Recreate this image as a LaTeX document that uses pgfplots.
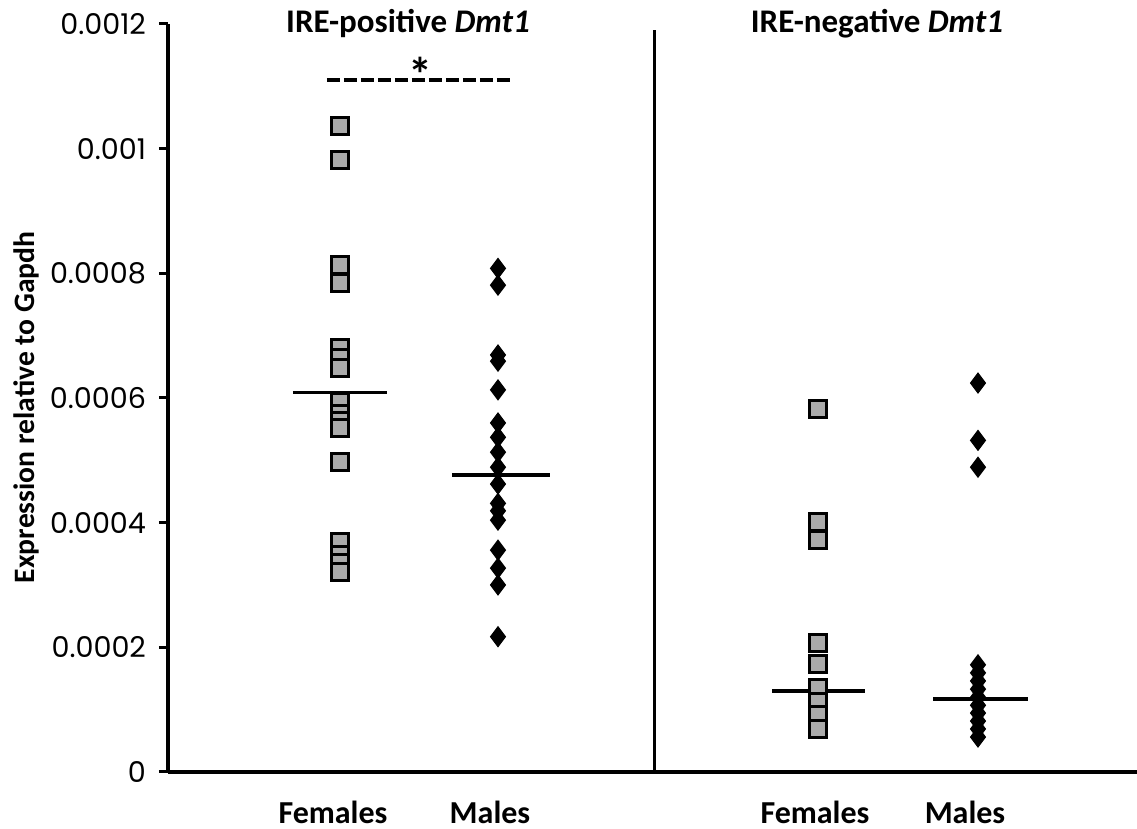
\documentclass[border=0pt]{standalone}
\usepackage{fontspec}
\setmainfont{Carlito}
\newfontfamily\tickfont{Poppins}
\usepackage{pgfplots}
\pgfplotsset{compat=1.18}
\usetikzlibrary{calc}
\definecolor{sqgray}{RGB}{170,170,170}
\begin{document}
\begin{tikzpicture}
\begin{axis}[name=ax, scale only axis, width=484.5pt, height=374pt,
 xmin=0, xmax=9.69, ymin=0, ymax=0.0012,
 axis x line=bottom, axis y line=left, axis line style={-, line width=1.9pt},
 ytick={0,0.0002,0.0004,0.0006,0.0008,0.001,0.0012},
 yticklabels={0,0.0002,0.0004,0.0006,0.0008,0.001,0.0012},
 scaled y ticks=false,
 tick align=outside, major tick length=4.5pt,
 ytick style={line width=1.5pt, black},
 xtick={1.65,3.22,6.47,7.97}, xticklabels={Females,Males,Females,Males},
 x tick style={draw=none},
 xticklabel style={font=\bfseries\fontsize{16}{16}\selectfont, yshift=-6.5pt},
 yticklabel style={font=\tickfont\fontsize{14.3}{14.3}\selectfont, xshift=-3pt},
 clip=false]
% IRE-positive females
\addplot[only marks, mark=square*, mark size=4.25pt, mark options={fill=sqgray, draw=black, line width=1.4pt}] coordinates {
(1.72,0.001036) (1.72,0.000982) (1.72,0.000813) (1.72,0.000784) (1.72,0.000680) (1.72,0.000664) (1.72,0.000648) (1.72,0.000593)
(1.72,0.000574) (1.72,0.000563) (1.72,0.000552) (1.72,0.000497) (1.72,0.000369) (1.72,0.000348) (1.72,0.000335) (1.72,0.000321)};
% IRE-positive males
\addplot[only marks, mark=diamond*, mark size=5pt, mark options={fill=black, draw=black, line width=0.5pt}] coordinates {
(3.30,0.000808) (3.30,0.000781) (3.30,0.000669) (3.30,0.000659) (3.30,0.000613) (3.30,0.000560) (3.30,0.000537) (3.30,0.000513)
(3.30,0.000489) (3.30,0.000462) (3.30,0.000431) (3.30,0.000419) (3.30,0.000404) (3.30,0.000356) (3.30,0.000327) (3.30,0.000300) (3.30,0.000217)};
% IRE-negative females
\addplot[only marks, mark=square*, mark size=4.25pt, mark options={fill=sqgray, draw=black, line width=1.4pt}] coordinates {
(6.50,0.000582) (6.50,0.000401) (6.50,0.000372) (6.50,0.000207) (6.50,0.000173) (6.50,0.000135) (6.50,0.000112) (6.50,0.0000914) (6.50,0.0000690)};
% IRE-negative males
\addplot[only marks, mark=diamond*, mark size=5pt, mark options={fill=black, draw=black, line width=0.5pt}] coordinates {
(8.10,0.000624) (8.10,0.000532) (8.10,0.000489) (8.10,0.000172) (8.10,0.000159) (8.10,0.000146) (8.10,0.000133) (8.10,0.000120)
(8.10,0.000107) (8.10,0.0000946) (8.10,0.0000818) (8.10,0.0000690) (8.10,0.0000561)};
% medians
\addplot[line width=1.8pt] coordinates {(1.25,0.000609) (2.19,0.000609)};
\addplot[line width=1.8pt] coordinates {(2.84,0.000476) (3.82,0.000476)};
\addplot[line width=1.8pt] coordinates {(6.04,0.000130) (6.97,0.000130)};
\addplot[line width=1.8pt] coordinates {(7.65,0.000117) (8.60,0.000117)};
% significance
\addplot[line width=2pt, dash pattern=on 6.3pt off 2.2pt] coordinates {(1.59,0.00111) (3.42,0.00111)};
\node at (axis cs:2.52,0.00112) {\bfseries\fontsize{24}{24}\selectfont *};
% divider
\draw[line width=1.5pt] (axis cs:4.87,0) -- (axis cs:4.87,0.00119);
% titles
\node at (axis cs:2.40,0.0012) {\bfseries\fontsize{16.5}{16.5}\selectfont IRE-positive \textit{Dmt1}};
\node at (axis cs:7.09,0.0012) {\bfseries\fontsize{16.5}{16.5}\selectfont IRE-negative \textit{Dmt1}};
% y label
\node[rotate=90] at (axis cs:-1.42,0.000585) {\bfseries\fontsize{14.8}{14.8}\selectfont Expression relative to Gapdh};
\end{axis}
\pgfresetboundingbox
\path ($(ax.south west)+(-84pt,-28.5pt)$) rectangle ($(ax.north east)+(0pt,12pt)$);
\end{tikzpicture}
\end{document}
